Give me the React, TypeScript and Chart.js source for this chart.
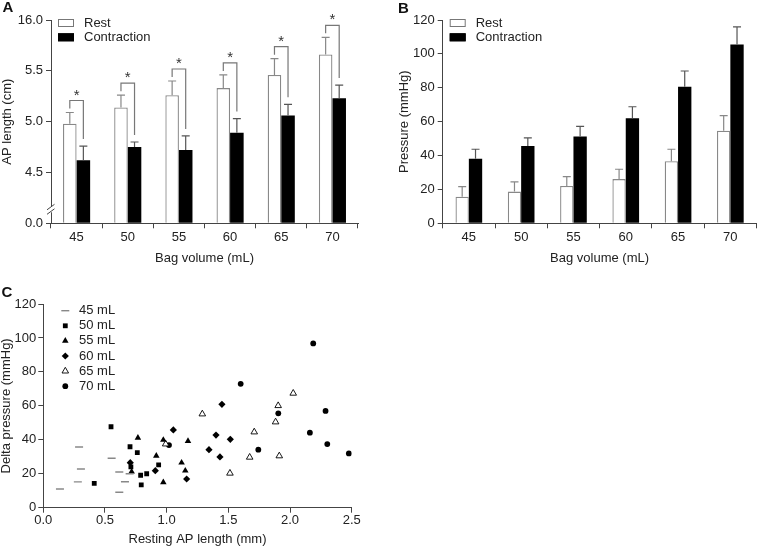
import React, { useEffect, useRef } from 'react';
import { Chart, registerables } from 'chart.js';
import { drawPoint } from 'chart.js/helpers';

Chart.register(...registerables);

const FONT = "'Liberation Sans', Arial, Helvetica, sans-serif";
const TEXT = '#222';
const AXIS = '#444';

Chart.defaults.font.family = FONT;
Chart.defaults.font.size = 13;
Chart.defaults.color = TEXT;

// ---------- Data ----------
const bagVolumes = ['45', '50', '55', '60', '65', '70'];
const seriesNames = ['Rest', 'Contraction'];

// Panel A: AP length (cm)
const apRest = [4.98, 5.14, 5.26, 5.33, 5.46, 5.66];
const apRestErr = [0.11, 0.12, 0.14, 0.13, 0.16, 0.17];
const apContraction = [4.62, 4.75, 4.72, 4.89, 5.06, 5.23];
const apContractionErr = [0.14, 0.05, 0.14, 0.14, 0.11, 0.13];
const apTickValues = [4.0, 4.5, 5.0, 5.5, 6.0];
const apTickLabels = ['0.0', '4.5', '5.0', '5.5', '16.0'];
const apSignificance = ['*', '*', '*', '*', '*', '*'];

// Panel B: Pressure (mmHg)
const pressureRest = [15.7, 18.7, 22.0, 26.1, 36.6, 54.7];
const pressureRestErr = [5.9, 5.7, 5.5, 5.8, 7.1, 8.8];
const pressureContraction = [38.1, 45.6, 51.3, 62.0, 80.6, 105.6];
const pressureContractionErr = [5.6, 4.8, 5.9, 6.8, 9.3, 10.4];

// Panel C: Delta pressure vs resting AP length
const scatterGroups = ['45 mL', '50 mL', '55 mL', '60 mL', '65 mL', '70 mL'];
const delta45 = [
  { x: 0.135, y: 11.0 }, { x: 0.29, y: 35.8 }, { x: 0.305, y: 22.8 }, { x: 0.28, y: 15.2 },
  { x: 0.554, y: 29.1 }, { x: 0.616, y: 21.0 }, { x: 0.662, y: 15.3 }, { x: 0.616, y: 9.1 },
  { x: 0.70, y: 20.0 },
];
const delta50 = [
  { x: 0.549, y: 47.7 }, { x: 0.703, y: 35.9 }, { x: 0.762, y: 32.4 }, { x: 0.413, y: 14.3 },
  { x: 0.789, y: 19.1 }, { x: 0.794, y: 13.4 }, { x: 0.838, y: 20.0 }, { x: 0.935, y: 25.2 },
  { x: 0.71, y: 24.0 },
];
const delta55 = [
  { x: 0.716, y: 21.2 }, { x: 0.767, y: 41.2 }, { x: 0.916, y: 30.6 }, { x: 0.973, y: 39.9 },
  { x: 0.973, y: 14.9 }, { x: 1.121, y: 26.5 }, { x: 1.151, y: 21.8 }, { x: 1.173, y: 39.3 },
];
const delta60 = [
  { x: 0.705, y: 26.5 }, { x: 0.908, y: 21.8 }, { x: 1.054, y: 45.8 }, { x: 1.162, y: 16.9 },
  { x: 1.343, y: 34.2 }, { x: 1.40, y: 42.8 }, { x: 1.432, y: 29.9 }, { x: 1.448, y: 60.9 },
  { x: 1.516, y: 40.3 },
];
const delta65 = [
  { x: 0.992, y: 37.5 }, { x: 1.289, y: 55.2 }, { x: 1.513, y: 20.3 }, { x: 1.673, y: 29.7 },
  { x: 1.71, y: 44.6 }, { x: 1.883, y: 50.5 }, { x: 1.904, y: 60.1 }, { x: 1.913, y: 30.5 },
  { x: 2.026, y: 67.4 },
];
const delta70 = [
  { x: 1.019, y: 36.9 }, { x: 1.60, y: 73.0 }, { x: 1.743, y: 34.2 }, { x: 1.905, y: 55.6 },
  { x: 2.188, y: 96.8 }, { x: 2.161, y: 44.2 }, { x: 2.288, y: 57.0 }, { x: 2.302, y: 37.5 },
  { x: 2.477, y: 32.0 },
];
const deltaSeries = [delta45, delta50, delta55, delta60, delta65, delta70];

// marker styles per group
const markerStyles = [
  { pointStyle: 'line', radius: 4, bg: '#888', border: '#888', bw: 1.4 },
  { pointStyle: 'rect', radius: 3.4, bg: '#000', border: '#000', bw: 0 },
  { pointStyle: 'triangle', radius: 3.8, bg: '#000', border: '#000', bw: 0 },
  { pointStyle: 'rectRot', radius: 3.6, bg: '#000', border: '#000', bw: 0 },
  { pointStyle: 'triangle', radius: 3.8, bg: '#fff', border: '#000', bw: 0.9 },
  { pointStyle: 'circle', radius: 2.9, bg: '#000', border: '#000', bw: 0 },
];

// ---------- Plugins ----------
function errorBarPlugin(errs: number[][], colors: string[]) {
  return {
    id: 'errorBars',
    afterDatasetsDraw(chart: any) {
      const { ctx } = chart;
      const ys = chart.scales.y;
      ctx.save();
      errs.forEach((e, di) => {
        const meta = chart.getDatasetMeta(di);
        const vals = chart.data.datasets[di].data as number[];
        meta.data.forEach((bar: any, i: number) => {
          const top = ys.getPixelForValue(vals[i] + e[i]);
          ctx.strokeStyle = colors[di];
          ctx.lineWidth = 1.2;
          ctx.beginPath();
          ctx.moveTo(bar.x, bar.y);
          ctx.lineTo(bar.x, top);
          ctx.moveTo(bar.x - 4, top);
          ctx.lineTo(bar.x + 4, top);
          ctx.stroke();
        });
      });
      ctx.restore();
    },
  };
}

function bracketPlugin(restErr: number[], contErr: number[], marks: string[]) {
  return {
    id: 'brackets',
    afterDatasetsDraw(chart: any) {
      const { ctx } = chart;
      const ys = chart.scales.y;
      const m0 = chart.getDatasetMeta(0);
      const m1 = chart.getDatasetMeta(1);
      const d0 = chart.data.datasets[0].data as number[];
      const d1 = chart.data.datasets[1].data as number[];
      ctx.save();
      ctx.strokeStyle = '#777';
      ctx.lineWidth = 1.2;
      ctx.fillStyle = '#333';
      ctx.font = `15px ${FONT}`;
      ctx.textAlign = 'center';
      ctx.textBaseline = 'alphabetic';
      m0.data.forEach((b0: any, i: number) => {
        const b1 = m1.data[i];
        const rTop = ys.getPixelForValue(d0[i] + restErr[i]);
        const cTop = ys.getPixelForValue(d1[i] + contErr[i]);
        const by = rTop - 12;
        ctx.beginPath();
        ctx.moveTo(b0.x, rTop - 4);
        ctx.lineTo(b0.x, by);
        ctx.lineTo(b1.x, by);
        ctx.lineTo(b1.x, cTop - 7);
        ctx.stroke();
        ctx.fillText(marks[i], (b0.x + b1.x) / 2, by - 1);
      });
      ctx.restore();
    },
  };
}

function barLegendPlugin(names: string[], fills: string[], strokes: string[]) {
  return {
    id: 'barLegend',
    afterDraw(chart: any) {
      const { ctx, chartArea } = chart;
      const x = chartArea.left + 7;
      ctx.save();
      ctx.font = `13px ${FONT}`;
      ctx.textAlign = 'left';
      ctx.textBaseline = 'middle';
      names.forEach((n, i) => {
        const y = 19 + i * 14.3;
        ctx.fillStyle = fills[i];
        ctx.fillRect(x, y, 16, 8);
        ctx.strokeStyle = strokes[i];
        ctx.lineWidth = 1;
        ctx.strokeRect(x + 0.5, y + 0.5, 15, 7);
        ctx.fillStyle = TEXT;
        ctx.fillText(n, x + 26, y + 4);
      });
      ctx.restore();
    },
  };
}

const axisBreakPlugin = {
  id: 'axisBreak',
  afterDraw(chart: any) {
    const { ctx, chartArea } = chart;
    const x = chartArea.left;
    const b = chartArea.bottom;
    ctx.save();
    ctx.fillStyle = '#fff';
    ctx.fillRect(x - 2, b - 17, 4, 6);
    ctx.strokeStyle = AXIS;
    ctx.lineWidth = 1;
    ctx.beginPath();
    ctx.moveTo(x - 4, b - 13.5);
    ctx.lineTo(x + 3.5, b - 19);
    ctx.moveTo(x - 4, b - 9);
    ctx.lineTo(x + 3.5, b - 14.5);
    ctx.stroke();
    ctx.restore();
  },
};

const scatterLegendPlugin = {
  id: 'scatterLegend',
  afterDraw(chart: any) {
    const { ctx, chartArea } = chart;
    const mx = chartArea.left + 22;
    const tx = chartArea.left + 35.7;
    ctx.save();
    ctx.font = `13px ${FONT}`;
    ctx.textAlign = 'left';
    ctx.textBaseline = 'middle';
    scatterGroups.forEach((g, i) => {
      const y = chartArea.top + 6.7 + i * 15.1;
      const s = markerStyles[i];
      ctx.fillStyle = s.bg;
      ctx.strokeStyle = s.border;
      ctx.lineWidth = s.bw || 0;
      drawPoint(ctx, { pointStyle: s.pointStyle as any, radius: s.radius, rotation: 0, borderWidth: s.bw }, mx, y);
      ctx.fillStyle = TEXT;
      ctx.fillText(g, tx, y);
    });
    ctx.restore();
  },
};

// ---------- Configs ----------
const baseAxisX = (title: string, height: number, pad: number) => ({
  grid: { drawOnChartArea: false, drawTicks: true, tickLength: 5, color: AXIS, offset: true },
  border: { display: true, color: AXIS, width: 1 },
  ticks: { padding: pad, color: TEXT, font: { size: 13 } },
  title: { display: true, text: title, color: TEXT, font: { size: 13 }, padding: { top: 0, bottom: 4 } },
  afterFit: (s: any) => { s.height = height; },
});

function makeConfigA(): any {
  return {
    type: 'bar',
    data: {
      labels: bagVolumes,
      datasets: [
        { label: seriesNames[0], data: apRest, base: 4, backgroundColor: '#fff', borderColor: '#888', borderWidth: 1.3, categoryPercentage: 0.53, barPercentage: 1 },
        { label: seriesNames[1], data: apContraction, base: 4, backgroundColor: '#000', borderColor: '#000', borderWidth: 0, categoryPercentage: 0.53, barPercentage: 1 },
      ],
    },
    options: {
      animation: false,
      responsive: false,
      layout: { padding: { top: 20, right: 20, left: 0, bottom: 0 } },
      plugins: { legend: { display: false }, tooltip: { enabled: false } },
      scales: {
        x: baseAxisX('Bag volume (mL)', 270 - 223.3, 1),
        y: {
          min: 4, max: 6,
          afterBuildTicks: (s: any) => { s.ticks = apTickValues.map((v) => ({ value: v })); },
          ticks: {
            padding: 3, color: TEXT, font: { size: 13 },
            callback: (v: any) => { const k = apTickValues.indexOf(Number(v)); return k >= 0 ? apTickLabels[k] : ''; },
          },
          grid: { drawOnChartArea: false, tickLength: 5, color: AXIS },
          border: { display: true, color: AXIS, width: 1 },
          title: { display: true, text: 'AP length (cm)', color: TEXT, font: { size: 13 }, padding: { top: 0, bottom: 0 } },
          afterFit: (s: any) => { s.width = 51; },
        },
      },
    },
    plugins: [
      errorBarPlugin([apRestErr, apContractionErr], ['#888', '#555']),
      bracketPlugin(apRestErr, apContractionErr, apSignificance),
      barLegendPlugin(seriesNames, ['#fff', '#000'], ['#777', '#000']),
      axisBreakPlugin,
    ],
  };
}

function makeConfigB(): any {
  return {
    type: 'bar',
    data: {
      labels: bagVolumes,
      datasets: [
        { label: seriesNames[0], data: pressureRest, backgroundColor: '#fff', borderColor: '#888', borderWidth: 1.3, categoryPercentage: 0.51, barPercentage: 1 },
        { label: seriesNames[1], data: pressureContraction, backgroundColor: '#000', borderColor: '#000', borderWidth: 0, categoryPercentage: 0.51, barPercentage: 1 },
      ],
    },
    options: {
      animation: false,
      responsive: false,
      layout: { padding: { top: 20, right: 0.5, left: 0, bottom: 0 } },
      plugins: { legend: { display: false }, tooltip: { enabled: false } },
      scales: {
        x: baseAxisX('Bag volume (mL)', 270 - 223.3, 1),
        y: {
          min: 0, max: 120,
          ticks: { stepSize: 20, padding: 3, color: TEXT, font: { size: 13 } },
          grid: { drawOnChartArea: false, tickLength: 5, color: AXIS },
          border: { display: true, color: AXIS, width: 1 },
          title: { display: true, text: 'Pressure (mmHg)', color: TEXT, font: { size: 13 }, padding: { top: 17, bottom: 0 } },
          afterFit: (s: any) => { s.width = 62.7; },
        },
      },
    },
    plugins: [
      errorBarPlugin([pressureRestErr, pressureContractionErr], ['#888', '#555']),
      barLegendPlugin(seriesNames, ['#fff', '#000'], ['#777', '#000']),
    ],
  };
}

function makeConfigC(): any {
  return {
    type: 'scatter',
    data: {
      datasets: deltaSeries.map((pts, i) => ({
        label: scatterGroups[i],
        data: pts,
        pointStyle: markerStyles[i].pointStyle,
        pointRadius: markerStyles[i].radius,
        pointBackgroundColor: markerStyles[i].bg,
        pointBorderColor: markerStyles[i].border,
        pointBorderWidth: markerStyles[i].bw,
        showLine: false,
      })),
    },
    options: {
      animation: false,
      responsive: false,
      layout: { padding: { top: 24, right: 500 - 351.7, left: 0, bottom: 0 } },
      plugins: { legend: { display: false }, tooltip: { enabled: false } },
      scales: {
        x: {
          type: 'linear', min: 0, max: 2.5,
          ticks: { stepSize: 0.5, padding: 0, color: TEXT, font: { size: 13 }, callback: (v: any) => Number(v).toFixed(1) },
          grid: { drawOnChartArea: false, tickLength: 5, color: AXIS },
          border: { display: true, color: AXIS, width: 1 },
          title: { display: true, text: 'Resting AP length (mm)', color: TEXT, font: { size: 13 }, padding: { top: 0, bottom: 0 } },
          afterFit: (s: any) => { s.height = 267 - 227.7; },
        },
        y: {
          type: 'linear', min: 0, max: 120,
          ticks: { stepSize: 20, padding: 2, color: TEXT, font: { size: 13 } },
          grid: { drawOnChartArea: false, tickLength: 5, color: AXIS },
          border: { display: true, color: AXIS, width: 1 },
          title: { display: true, text: 'Delta pressure (mmHg)', color: TEXT, font: { size: 13, lineHeight: 1 }, padding: { top: 0, bottom: 0 } },
          afterFit: (s: any) => { s.width = 43.3; },
        },
      },
    },
    plugins: [scatterLegendPlugin],
  };
}

const letterStyle: React.CSSProperties = {
  position: 'absolute',
  fontFamily: FONT,
  fontWeight: 'bold',
  fontSize: 15,
  lineHeight: '15px',
  color: '#111',
};

export default function App() {
  const refA = useRef<HTMLCanvasElement>(null);
  const refB = useRef<HTMLCanvasElement>(null);
  const refC = useRef<HTMLCanvasElement>(null);

  useEffect(() => {
    const charts: Chart[] = [];
    if (refA.current) charts.push(new Chart(refA.current, makeConfigA()));
    if (refB.current) charts.push(new Chart(refB.current, makeConfigB()));
    if (refC.current) charts.push(new Chart(refC.current, makeConfigC()));
    return () => charts.forEach((c) => c.destroy());
  }, []);

  return (
    <div style={{ position: 'fixed', left: 0, top: 0, width: 757, height: 547, background: '#fff', overflow: 'hidden' }}>
      <canvas ref={refA} width={378} height={270} style={{ position: 'absolute', left: 0, top: 0 }} />
      <canvas ref={refB} width={377} height={270} style={{ position: 'absolute', left: 380, top: 0 }} />
      <canvas ref={refC} width={500} height={267} style={{ position: 'absolute', left: 0, top: 280 }} />
      <div style={{ ...letterStyle, left: 2.5, top: -1.5 }}>A</div>
      <div style={{ ...letterStyle, left: 398, top: -0.5 }}>B</div>
      <div style={{ ...letterStyle, left: 1.5, top: 283.5 }}>C</div>
    </div>
  );
}
